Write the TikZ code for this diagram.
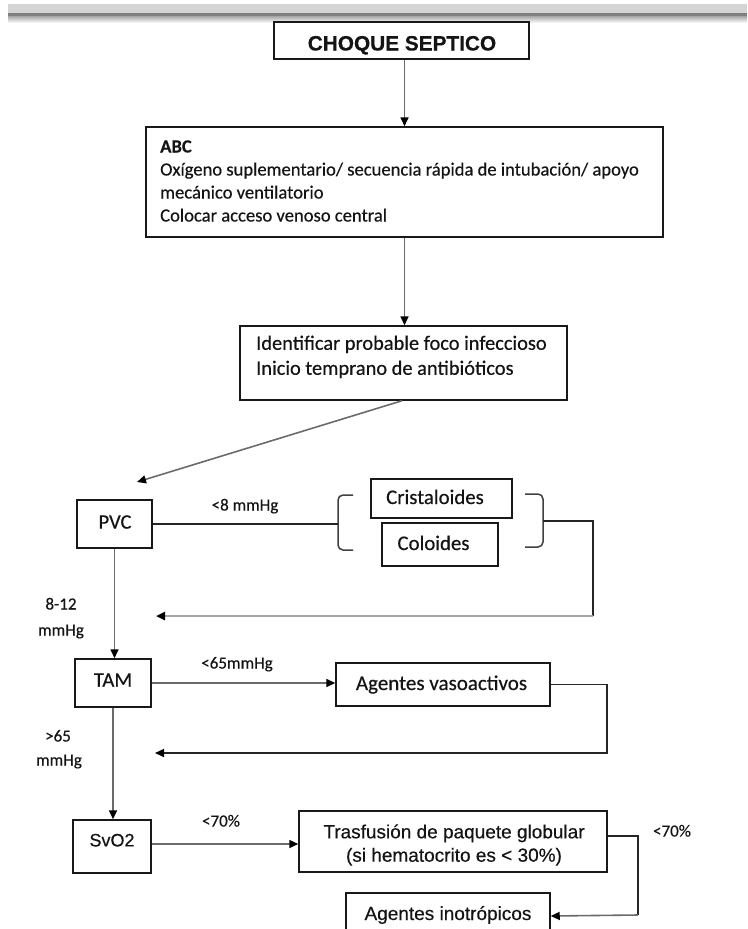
\documentclass[tikz,border=0pt]{standalone}
\usepackage{fontspec}
\setmainfont{Carlito}[FakeBold=0.4]
\newfontfamily\arialf{Liberation Sans}[FakeBold=0.4]
\usetikzlibrary{arrows.meta,calc}
\tikzset{
  box/.style={draw=black!90, line width=1.5pt, inner sep=0pt, fill=white},
  conn/.style={line width=1.6pt, draw=black!58},
  darkconn/.style={line width=1.5pt, draw=black!85},
  lightconn/.style={line width=2.4pt, draw=black!35},
  arr/.style={-{Triangle[length=9pt,width=8pt,color=black]}},
  brk/.style={line width=1.5pt, draw=black!75, rounded corners=5pt},
  txt/.style={anchor=base, inner sep=0pt, text=black!92},
  txtl/.style={anchor=base west, inner sep=0pt, text=black!92},
  cal/.style={font=\fontsize{#1}{#1}\selectfont},
  ari/.style={font=\arialf\fontsize{#1}{#1}\selectfont},
}
\begin{document}
\begin{tikzpicture}[x=1pt,y=-1pt]
\useasboundingbox (0,0) rectangle (747,929);
\clip (0,0) rectangle (747,929);
% top bar
\fill[black!17] (8,4) rectangle (747,13);
\fill[black!50] (8,13) rectangle (747,16);
\shade[top color=black!35,bottom color=white] (8,16) rectangle (747,23);

% boxes
\node[box, minimum width=255pt, minimum height=37pt] (choque) at (401.5,40.5) {};
\node[txt, ari=20.8] (choquet) at (402,50.5) {\bfseries CHOQUE SEPTICO};

\node[box, minimum width=517pt, minimum height=110pt] (abc) at (404.5,182) {};
\node[txtl, cal=18.6] (abc1) at (160,152.5) {\bfseries ABC};
\node[txtl, cal=18.6] (abc2) at (160,175.5) {Oxígeno suplementario/ secuencia rápida de intubación/ apoyo};
\node[txtl, cal=18.6] (abc3) at (160,198.5) {mecánico ventilatorio};
\node[txtl, cal=18.6] (abc4) at (160,221.5) {Colocar acceso venoso central};

\node[box, minimum width=327pt, minimum height=74pt] (ident) at (403.5,363) {};
\node[txtl, cal=20.4] (ident1) at (256,349.8) {Identificar probable foco infeccioso};
\node[txtl, cal=20.4] (ident2) at (256,374.8) {Inicio temprano de antibióticos};

\node[box, minimum width=75pt, minimum height=48pt] (pvc) at (114.5,524) {};
\node[txt, cal=20.5] (pvct) at (115,528.6) {PVC};

\node[box, minimum width=141pt, minimum height=39pt] (crist) at (441.5,498.5) {};
\node[txt, cal=20.8] (cristt) at (435,504) {Cristaloides};
\node[box, minimum width=116pt, minimum height=43pt] (colo) at (440,544.5) {};
\node[txt, cal=20.8] (colot) at (433.5,550) {Coloides};

\node[box, minimum width=76pt, minimum height=48pt] (tam) at (113,683) {};
\node[txt, cal=20.8] (tamt) at (113,686.7) {TAM};

\node[box, minimum width=214pt, minimum height=43pt] (vaso) at (443,684.5) {};
\node[txt, cal=21] (vasot) at (441.5,690) {Agentes vasoactivos};

\node[box, minimum width=78pt, minimum height=53pt] (svo) at (112,846.5) {};
\node[txt, ari=18] (svot) at (112,846.4) {SvO2};

\node[box, minimum width=308pt, minimum height=61pt] (tras) at (453,841.5) {};
\node[txt, ari=19] (tras1) at (454,838.3) {Trasfusión de paquete globular};
\node[txt, ari=19] (tras2) at (454,861.7) {(si hematocrito es < 30\%)};

\node[box, minimum width=204pt, minimum height=46pt] (ino) at (448,916) {};
\node[txt, ari=19] (inot) at (448,920) {Agentes inotrópicos};

% labels
\node[txt, cal=17] (l1) at (245,510.5) {<8 mmHg};
\node[txt, cal=17] (l2a) at (61,609.5) {8-12};
\node[txt, cal=17] (l2b) at (61,635.5) {mmHg};
\node[txt, cal=17] (l3) at (237,668.5) {<65mmHg};
\node[txt, cal=17] (l4a) at (58,741.5) {>65};
\node[txt, cal=17] (l4b) at (59,765.5) {mmHg};
\node[txt, cal=17] (l5) at (221,826.5) {<70\%};
\node[txt, cal=17] (l6) at (672,836.5) {<70\%};

% coordinates
\coordinate (d1) at (137,482);
\coordinate (lbm) at (338,523);
\coordinate (rbm) at (543,521);
\coordinate (r1c) at (593,616);
\coordinate (ret1) at (156,616);
\coordinate (r2c) at (607,753);
\coordinate (ret2) at (155,753);
\coordinate (r3c) at (638,915);

% brackets
\draw[brk] (353,495) -- (338,495) -- (338,550) -- (353,550);
\draw[brk] (525,494) -- (543,494) -- (543,547) -- (525,547);

% connectors
\draw[conn,arr] (choque.south -| abc.north) -- (abc.north);
\draw[conn,arr] (abc.south) -- (abc.south |- ident.north);
\draw[conn,arr] ([xshift=-1.5pt]ident.south) -- (d1);
\draw[darkconn] (pvc.east) -- (pvc.east -| lbm);
\draw[darkconn] (rbm) -| (r1c);
\draw[lightconn,arr] (r1c) -- (ret1);
\draw[conn,arr] (pvc.south) -- (pvc.south |- tam.north);
\draw[conn,arr] (tam.east) -- (tam.east -| vaso.west);
\draw[darkconn,arr] (vaso.east) -| (r2c) -- (ret2);
\draw[conn,arr] (tam.south) -- (tam.south |- svo.north);
\draw[conn,arr] ([yshift=2.5pt]svo.east) -- ([yshift=2.5pt]svo.east -| tras.west);
\draw[darkconn] ([yshift=5.5pt]tras.east) -| (r3c);
\draw[conn,arr] (r3c) -- (ino.east);
\end{tikzpicture}
\end{document}
